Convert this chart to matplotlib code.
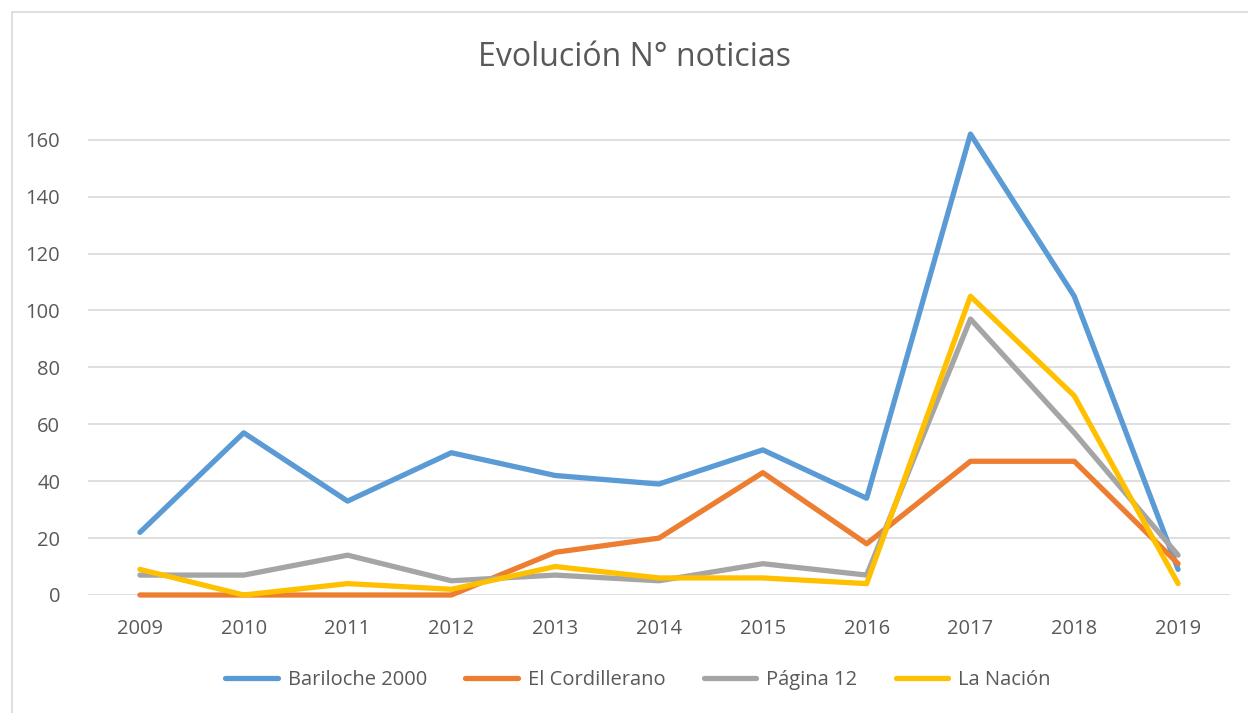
import matplotlib
matplotlib.use("Agg")
import matplotlib.pyplot as plt
from matplotlib.patches import Rectangle

years = ["2009", "2010", "2011", "2012", "2013", "2014", "2015", "2016", "2017", "2018", "2019"]
bariloche = [22, 57, 33, 50, 42, 39, 51, 34, 162, 105, 9]
cordillerano = [0, 0, 0, 0, 15, 20, 43, 18, 47, 47, 11]
pagina12 = [7, 7, 14, 5, 7, 5, 11, 7, 97, 57, 14]
nacion = [9, 0, 4, 2, 10, 6, 6, 4, 105, 70, 4]

series = [
    ("Bariloche 2000", bariloche, "#5B9BD5"),
    ("El Cordillerano", cordillerano, "#ED7D31"),
    ("Página 12", pagina12, "#A5A5A5"),
    ("La Nación", nacion, "#FFC000"),
]

plt.rcParams['font.family'] = ['Open Sans', 'DejaVu Sans']

fig = plt.figure(figsize=(12.48, 7.13), dpi=100)
ax = fig.add_axes([88 / 1248, 118 / 713, 1142 / 1248, 478 / 713])

# outer chart border
fig.patches.append(Rectangle((12 / 1248, -0.01), 1.0, 1 - 12 / 713 + 0.01,
                             transform=fig.transFigure, fill=False,
                             edgecolor="#D9D9D9", linewidth=1.2))

x = list(range(len(years)))
for name, vals, col in series:
    ax.plot(x, vals, color=col, linewidth=3.8, label=name,
            solid_capstyle="round", solid_joinstyle="round", clip_on=False)

ax.set_xlim(-0.5, len(years) - 0.5)
ax.set_ylim(0, 168)
ax.set_yticks(range(0, 161, 20))
ax.set_xticks(x)
ax.set_xticklabels(years)
ax.grid(axis="y", color="#D9D9D9", linewidth=1.2)
ax.set_axisbelow(True)
for s in ax.spines.values():
    s.set_visible(False)
ax.tick_params(length=0, labelsize=14.5, colors="#595959")
ax.tick_params(axis="x", pad=17)
ax.tick_params(axis="y", pad=20)

fig.text(634 / 1248, 1 - 57 / 713, "Evolución N° noticias", ha="center", va="center",
         fontsize=23, color="#595959")

fig.legend(loc="center", bbox_to_anchor=(638 / 1248, 1 - 680 / 713), ncol=4,
           frameon=False, fontsize=14.5, labelcolor="#595959", handlelength=2.6,
           columnspacing=1.9, handletextpad=0.5)

fig.savefig("out.png", dpi=100)
